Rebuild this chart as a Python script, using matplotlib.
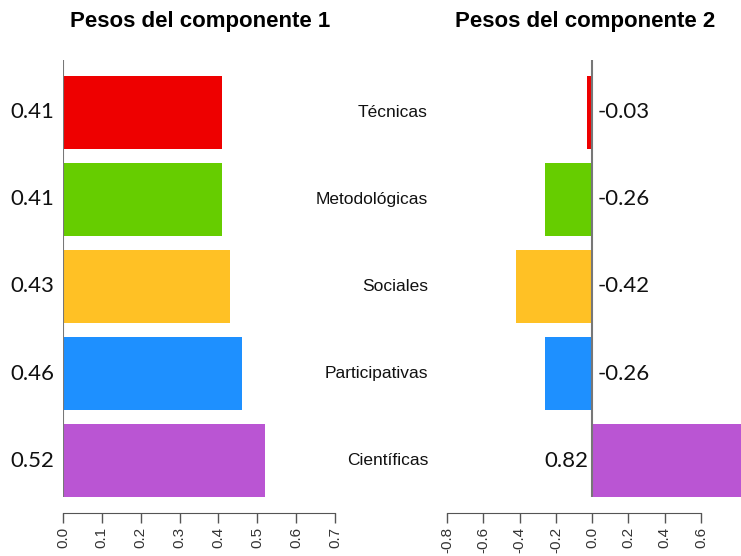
import matplotlib.pyplot as plt
import numpy as np

# Datos
categorias = ["Técnicas", "Metodológicas", "Sociales", "Participativas", "Científicas"]
pesos_comp1 = [0.41, 0.41, 0.43, 0.46, 0.52]
pesos_comp2 = [-0.03, -0.26, -0.42, -0.26, 0.82]
etiquetas_comp1 = ["0.41", "0.41", "0.43", "0.46", "0.52"]
etiquetas_comp2 = ["-0.03", "-0.26", "-0.42", "-0.26", "0.82"]
colores = ["#EE0000", "#66CD00", "#FFC125", "#1E90FF", "#BA55D3"]
ticks_comp1 = [0.0, 0.1, 0.2, 0.3, 0.4, 0.5, 0.6, 0.7]
ticks_comp2 = [-0.8, -0.6, -0.4, -0.2, 0.0, 0.2, 0.4, 0.6]

W, H = 741, 556
fig = plt.figure(figsize=(W / 100, H / 100), dpi=100)

pos = np.arange(len(categorias))[::-1]  # Técnicas arriba
alto = 1 / 1.2
ylim = (-0.6, 4.6)
y_bot, y_top = 513, 60  # pixeles


def px_ax(x0, x1):
    return [x0 / W, 1 - y_bot / H, (x1 - x0) / W, (y_bot - y_top) / H]


def estilo(ax, ticks):
    for s in ["top", "right", "left"]:
        ax.spines[s].set_visible(False)
    ax.spines["bottom"].set_bounds(ticks[0], ticks[-1])
    ax.spines["bottom"].set_color("#555555")
    ax.set_xticks(ticks)
    ax.set_xticklabels([f"{t:.1f}" for t in ticks], rotation=90,
                       fontsize=11, color="#333333", family="Liberation Sans")
    ax.tick_params(axis="x", length=7, width=1, color="#555555", pad=3)
    ax.set_yticks([])
    ax.set_ylim(*ylim)
    ax.patch.set_alpha(0)


# Componente 1
ax1 = fig.add_axes(px_ax(63, 335))
ax1.barh(pos, pesos_comp1, height=alto, color=colores)
ax1.set_xlim(0, 0.7)
estilo(ax1, ticks_comp1)
ax1.vlines(0, -0.42, 4.6, color="#777777", linewidth=1.5)
for p, e in zip(pos, etiquetas_comp1):
    ax1.annotate(e, (0, p), xytext=(-6, 0), textcoords="offset points",
                 ha="right", va="center", fontsize=16, family="Lato", color="#111111")

# Componente 2
ax2 = fig.add_axes(px_ax(447, 741))
ax2.barh(pos, pesos_comp2, height=alto, color=colores)
ax2.set_xlim(-0.8, 0.82)
estilo(ax2, ticks_comp2)
ax2.vlines(0, -0.42, 4.6, color="#777777", linewidth=1.5)
for p, v, e in zip(pos, pesos_comp2, etiquetas_comp2):
    if v < 0:
        ax2.annotate(e, (0, p), xytext=(4, 0), textcoords="offset points",
                     ha="left", va="center", fontsize=16, family="Lato", color="#111111")
    else:
        ax2.annotate(e, (0, p), xytext=(-3, 0), textcoords="offset points",
                     ha="right", va="center", fontsize=16, family="Lato", color="#111111")

# Nombres de categorías en el centro
for p, c in zip(pos, categorias):
    ax1.annotate(c, (428 / W, p), xycoords=("figure fraction", "data"),
                 ha="right", va="center",
                 fontsize=12.5, family="Liberation Sans", color="#111111")

fig.text(200 / W, 1 - 22 / H, "Pesos del componente 1", ha="center", va="center",
         fontsize=16, fontweight="bold", family="Liberation Sans")
fig.text(585 / W, 1 - 22 / H, "Pesos del componente 2", ha="center", va="center",
         fontsize=16, fontweight="bold", family="Liberation Sans")

fig.savefig("out.png", dpi=100)
